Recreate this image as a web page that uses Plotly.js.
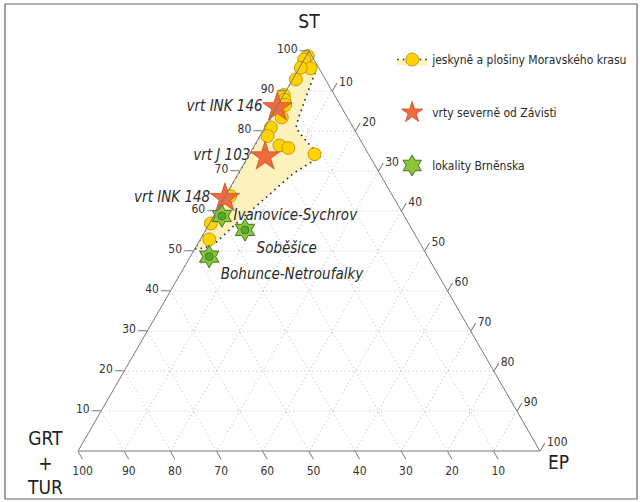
<!DOCTYPE html>
<html><head><meta charset="utf-8">
<script src="https://cdn.plot.ly/plotly-3.0.1.min.js"></script>
<style>html,body{margin:0;padding:0;background:#fff}</style>
</head><body>
<div id="chart" style="width:640px;height:502px"></div>
<script>
// Yellow circles: cave and plateau sediments (ST, GRT+TUR, EP in %)
const caveST  = [98.75, 97.9, 95.7, 95.8, 92.9, 89.0, 87.75, 86.5, 83.4, 80.9, 78.75, 76.4, 75.75, 74.2, 63.75, 56.9, 52.9];
const caveGRT = [0.9, 2.1, 1.8, 3.9, 6.4, 11.0, 11.45, 11.9, 14.2, 17.8, 19.6, 18.2, 16.6, 11.7, 35.2, 42.8, 45.15];
const caveEP  = [0.35, 0, 2.5, 0.3, 0.7, 0, 0.8, 1.6, 2.4, 1.3, 1.65, 5.4, 7.65, 14.1, 1.05, 0.3, 1.95];

// Envelope of the cave samples
const envST  = [100, 94.4, 89.0, 83.2, 80.7, 73.5, 69.4, 62.75, 57.75, 52.3, 50.75, 50.5, 100];
const envGRT = [0, 1.53, 6.0, 10.7, 12.5, 10.9, 18.7, 28.55, 36.05, 43.84, 47.15, 49.5, 0];
const envEP  = [0, 4.07, 5.0, 6.1, 6.8, 15.6, 11.9, 8.7, 6.2, 3.86, 2.1, 0, 0];

// Boreholes north of Závist
const boreNames = ['vrt INK 146', 'vrt J 103', 'vrt INK 148'];
const boreST  = [85.9, 73.6, 63.2];
const boreGRT = [13.9, 22.7, 36.6];
const boreEP  = [0.2, 3.7, 0.2];

// Brno localities
const brnoNames = ['Ivanovice-Sychrov', 'Soběšice', 'Bohunce-Netroufalky'];
const brnoST  = [58.75, 55.25, 48.6];
const brnoGRT = [39.5, 36.2, 47.3];
const brnoEP  = [1.75, 8.5, 4.1];

// Axis ticks and titles
const tickVals = [10, 20, 30, 40, 50, 60, 70, 80, 90, 100];
const tickText = ['10', '20', '30', '40', '50', '60', '70', '80', '90', '100'];
const axisTitles = ['ST', 'GRT<br>+<br>TUR', 'EP'];

const seriesNames = ['jeskyně a plošiny Moravského krasu', 'vrty severně od Závisti', 'lokality Brněnska'];

const FONT = "'Liberation Sans Narrow', 'Arial Narrow', 'DejaVu Sans Condensed', 'Liberation Sans', sans-serif";

const traces = [
  {
    type: 'scatterternary', name: seriesNames[0], legendgroup: 'g1',
    a: envST, b: envGRT, c: envEP,
    mode: 'lines+markers', fill: 'toself', fillcolor: '#fdf1bd',
    line: {color: '#2a2a2a', width: 1.6, dash: '1.6px,4px'},
    marker: {symbol: 'circle', size: 13, color: '#ffd200', line: {color: '#b08a00', width: 0.8}},
    selectedpoints: [], unselected: {marker: {opacity: 0}},
    hoverinfo: 'skip', cliponaxis: false
  },
  {
    type: 'scatterternary', name: seriesNames[0], legendgroup: 'g1', showlegend: false,
    a: caveST, b: caveGRT, c: caveEP, mode: 'markers',
    marker: {symbol: 'circle', size: 13, color: '#ffd200', line: {color: '#b08a00', width: 0.8}},
    cliponaxis: false
  },
  {
    type: 'scatterternary', name: seriesNames[1], legendgroup: 'g2',
    a: boreST, b: boreGRT, c: boreEP, mode: 'markers+text',
    text: boreNames, textposition: ['middle left', 'middle left', 'middle left'],
    textfont: {family: FONT, size: 15, color: '#2b2b2b', style: 'italic'},
    marker: {symbol: 'star', size: 22, color: '#ee6b3d', line: {color: '#c8502a', width: 0.8}},
    cliponaxis: false
  },
  {
    type: 'scatterternary', name: seriesNames[2], legendgroup: 'g3',
    a: brnoST, b: brnoGRT, c: brnoEP, mode: 'markers+text',
    text: brnoNames, textposition: ['middle right', 'bottom right', 'bottom right'],
    textfont: {family: FONT, size: 15, color: '#2b2b2b', style: 'italic'},
    marker: {symbol: 'hexagram', size: 17, color: '#8cc43c', line: {color: '#3d7a1c', width: 1}},
    cliponaxis: false
  },
  {
    type: 'scatterternary', name: seriesNames[2], legendgroup: 'g3', showlegend: false,
    a: brnoST, b: brnoGRT, c: brnoEP, mode: 'markers',
    marker: {symbol: 'circle', size: 8, color: '#55a82a', line: {color: '#3d7a1c', width: 0.8}},
    hoverinfo: 'skip', cliponaxis: false
  }
];

function axis(title) {
  return {
    title: {text: title, font: {family: FONT, size: 19, color: '#222'}},
    tickmode: 'array', tickvals: tickVals, ticktext: tickText,
    ticks: 'outside', ticklen: 9, tickcolor: '#777', tickwidth: 1,
    tickfont: {family: FONT, size: 12, color: '#333'},
    showline: true, linecolor: '#777', linewidth: 1,
    showgrid: true, gridcolor: '#bdbdbd', gridwidth: 1, griddash: '1px,3px'
  };
}

const titleFont = {family: FONT, size: 19, color: '#222'};

const layout = {
  width: 640, height: 502,
  margin: {l: 78, r: 100, t: 51, b: 51, autoexpand: false},
  paper_bgcolor: '#fff',
  font: {family: FONT, color: '#333'},
  showlegend: true,
  legend: {
    x: 0.68, xanchor: 'left', y: 1.015, yanchor: 'top',
    traceorder: 'grouped', tracegroupgap: 34,
    itemwidth: 30,
    font: {family: FONT, size: 12, color: '#2b2b2b'},
    bgcolor: 'rgba(0,0,0,0)'
  },
  ternary: {
    sum: 100, bgcolor: '#fff',
    domain: {x: [0, 1], y: [0, 1]},
    aaxis: axis(axisTitles[0]),
    baxis: axis(''),
    caxis: axis('')
  },
  annotations: [
    {text: axisTitles[1], xref: 'paper', yref: 'paper', x: -0.0714, y: -0.0275,
     xanchor: 'center', yanchor: 'middle', showarrow: false, font: titleFont},
    {text: axisTitles[2], xref: 'paper', yref: 'paper', x: 1.039, y: -0.0275,
     xanchor: 'center', yanchor: 'middle', showarrow: false, font: titleFont}
  ],
  shapes: [{
    type: 'rect', xref: 'paper', yref: 'paper',
    x0: -0.158, x1: 1.21, y0: -0.12, y1: 1.1175,
    line: {color: '#666', width: 1.2}, fillcolor: 'rgba(0,0,0,0)', layer: 'below'
  }]
};

Plotly.newPlot('chart', traces, layout, {displayModeBar: false, staticPlot: true});
</script>
</body></html>
